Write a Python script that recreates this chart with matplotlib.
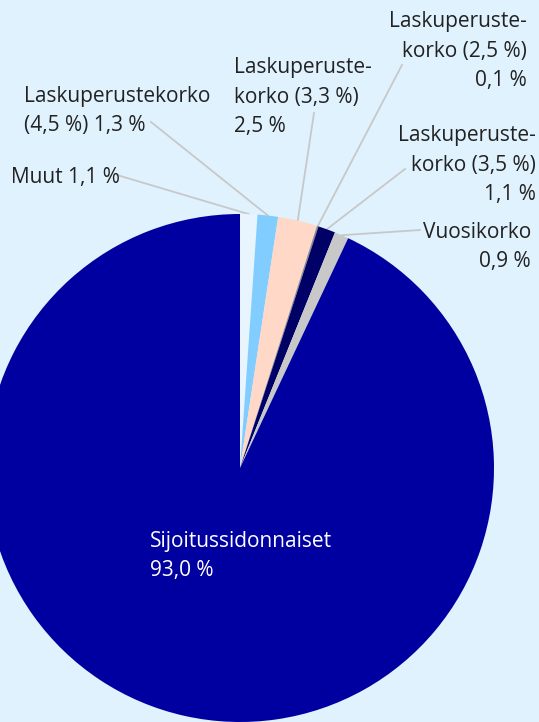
import numpy as np
import matplotlib
matplotlib.use("Agg")
import matplotlib.pyplot as plt

# slices, clockwise from 12 o'clock
labels = [
    "Muut 1,1 %",
    "Laskuperustekorko\n(4,5 %) 1,3 %",
    "Laskuperuste-\nkorko (3,3 %)\n2,5 %",
    "Laskuperuste-\nkorko (2,5 %)\n0,1 %",
    "Laskuperuste-\nkorko (3,5 %)\n1,1 %",
    "Vuosikorko\n0,9 %",
    "Sijoitussidonnaiset\n93,0 %",
]
values = [1.1, 1.3, 2.5, 0.1, 1.1, 0.9, 93.0]
colors = ["#e8f5ff", "#82cdff", "#ffd8c8", "#8a8a8a", "#000066", "#c8c8c8", "#0000a0"]

W, H = 539, 722
BG = "#e0f2fe"
CX, CY, R = 240, H - 468, 254

# label text positions (px from top-left), alignment
text_pos = [
    (11, 177, "left"),
    (24, 111, "left"),
    (234, 97, "left"),
    (527, 51, "right"),
    (536, 165, "right"),
    (531, 247, "right"),
    (150, 556, "left"),
]
# leader line start points (px)
leader_start = [
    (117, 175),
    (151, 122),
    (314, 113),
    (402, 65),
    (405, 169),
    (420, 230),
    None,
]

plt.rcParams['font.family'] = ['Open Sans', 'DejaVu Sans']

fig = plt.figure(figsize=(W / 100, H / 100), dpi=100)
fig.patch.set_facecolor(BG)
ax = fig.add_axes([0, 0, 1, 1])
ax.set_facecolor(BG)

wedges, _ = ax.pie(values, colors=colors, startangle=90, counterclock=False,
                   center=(CX, CY), radius=R,
                   wedgeprops=dict(linewidth=0))
ax.set_xlim(0, W)
ax.set_ylim(0, H)
ax.set_aspect("equal")
ax.axis("off")

for i, w in enumerate(wedges):
    x, y, ha = text_pos[i]
    col = "white" if i == len(wedges) - 1 else "#222222"
    ax.text(x, H - y, labels[i], ha=ha, va="center", fontsize=15,
            color=col, linespacing=1.56, multialignment=ha)
    if leader_start[i] is not None:
        mid = np.deg2rad((w.theta1 + w.theta2) / 2)
        ex = CX + R * np.cos(mid)
        ey = CY + R * np.sin(mid)
        sx, sy = leader_start[i]
        ax.plot([sx, ex], [H - sy, ey], color="#c8c8c8", lw=1.3, zorder=0.5)

fig.savefig("out.png", dpi=100, facecolor=BG)
